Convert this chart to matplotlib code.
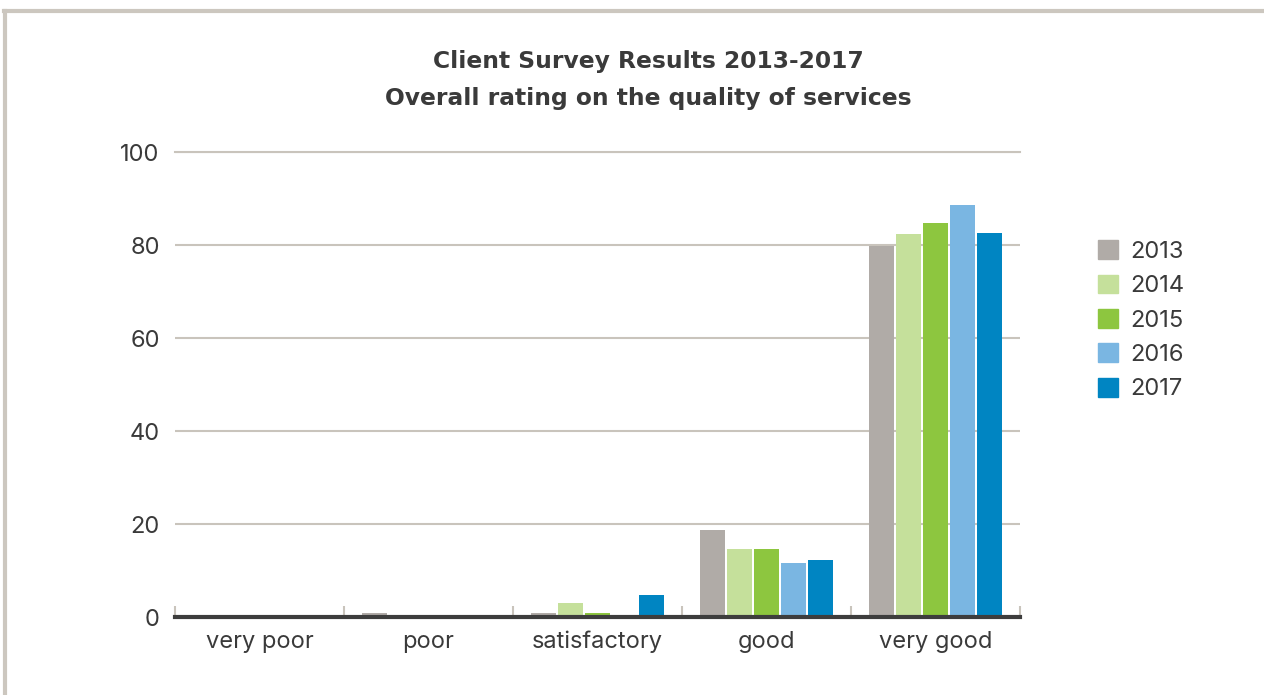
import numpy as np
import matplotlib.pyplot as plt
from matplotlib.lines import Line2D

categories = ["very poor", "poor", "satisfactory", "good", "very good"]
years = ["2013", "2014", "2015", "2016", "2017"]
v2013 = [0, 0.8, 0.8, 18.7, 79.8]
v2014 = [0, 0, 3.0, 14.6, 82.3]
v2015 = [0, 0, 0.8, 14.6, 84.7]
v2016 = [0, 0, 0, 11.6, 88.6]
v2017 = [0, 0.3, 4.7, 12.3, 82.7]
colors = ["#b0aba7", "#c5e09b", "#8dc63f", "#7ab6e2", "#0085c2"]

plt.rcParams['font.family'] = ['Inter', 'DejaVu Sans']
text_col = "#3a3a3a"

fig = plt.figure(figsize=(12.64, 6.95), dpi=100)
ax = fig.add_axes([0.1385, 0.1122, 0.6685, 0.669])

series = [v2013, v2014, v2015, v2016, v2017]
x = np.arange(len(categories))
w = 0.8 / 5
for i, vals in enumerate(series):
    ax.bar(x - 0.4 + w * (i + 0.5), vals, width=w * 0.92, color=colors[i],
           label=years[i], zorder=3)

ax.set_xlim(-0.5, len(categories) - 0.5)
ax.set_ylim(0, 100)
ax.set_yticks([0, 20, 40, 60, 80, 100])
ax.yaxis.grid(True, color="#c9c4bc", linewidth=1.5, zorder=0)
ax.axhline(100, color="#c9c4bc", linewidth=1.5, clip_on=False, zorder=0)
ax.tick_params(axis='y', length=0, pad=11, labelsize=17, labelcolor=text_col)

ax.set_xticks(np.arange(len(categories) + 1) - 0.5)
ax.set_xticklabels([])
ax.set_xticks(x, minor=True)
ax.set_xticklabels(categories, minor=True)
ax.tick_params(axis='x', which='major', direction='in', length=8, width=1.5,
               color="#c9c4bc")
ax.tick_params(axis='x', which='minor', length=0, pad=10, labelsize=17,
               labelcolor=text_col)

for s in ["top", "right", "left"]:
    ax.spines[s].set_visible(False)
ax.spines["bottom"].set_color("#3d3d3d")
ax.spines["bottom"].set_linewidth(3)
ax.spines["bottom"].set_zorder(4)

fig.text(0.513, 0.885, "Client Survey Results 2013-2017\nOverall rating on the quality of services",
         ha="center", va="center", fontsize=16.8, fontweight="bold", color=text_col,
         linespacing=1.75, family="DejaVu Sans")

handles = [plt.Rectangle((0, 0), 1, 1, color=c) for c in colors]
fig.legend(handles, years, loc="upper left", bbox_to_anchor=(0.852, 0.685),
           frameon=False, fontsize=17, handlelength=0.85, handleheight=0.85,
           handletextpad=0.5, labelspacing=0.5, labelcolor=text_col)

# page frame
fig.add_artist(Line2D([0.003, 1.0], [0.984, 0.984], color="#ccc7bf", linewidth=3))
fig.add_artist(Line2D([0.004, 0.004], [0.0, 0.984], color="#ccc7bf", linewidth=3))

fig.savefig("out.png", dpi=100)
